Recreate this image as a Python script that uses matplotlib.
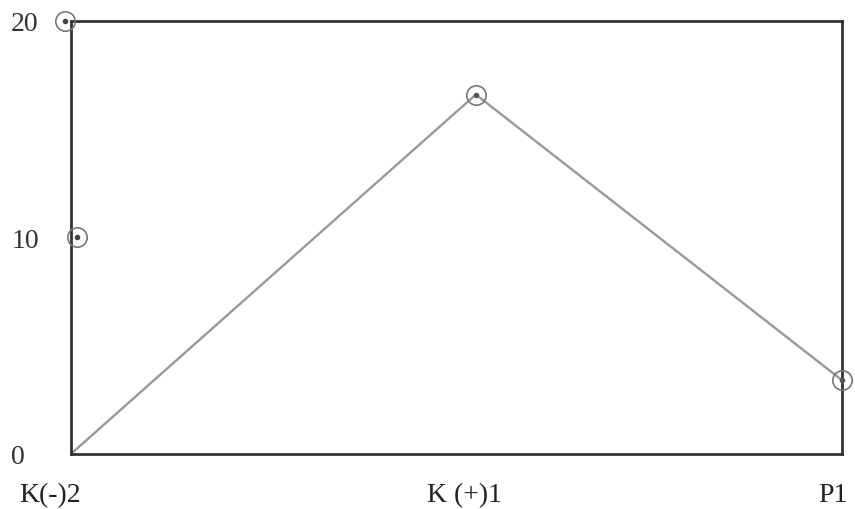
import matplotlib
matplotlib.use("Agg")
import matplotlib.pyplot as plt
import matplotlib.transforms as mtransforms

# data
categories = ["K(-)2", "K (+)1", "P1"]
x_pos = [0, 1.05, 2]
values = [0, 16.6, 3.4]
# circled marks on the left axis
axis_marks_x = [-0.015, 0.015]
axis_marks_y = [20, 10]
y_ticks = [0, 10, 20]

plt.rcParams["font.family"] = ["Liberation Serif", "DejaVu Serif"]

fig = plt.figure(figsize=(8.55, 5.10), dpi=100)
ax = fig.add_axes([0.083, 0.108, 0.902, 0.849])

ax.plot(x_pos, values, color="#999999", lw=1.7, zorder=2)
ax.plot(x_pos[1:], values[1:], ls="none", marker="o", ms=14, mfc="none",
        mec="#777777", mew=1.2, clip_on=False, zorder=3)
ax.plot(x_pos[1:], values[1:], ls="none", marker="o", ms=3,
        color="#555555", clip_on=False, zorder=3)
ax.plot(axis_marks_x, axis_marks_y, ls="none", marker="o", ms=14, mfc="none",
        mec="#777777", mew=1.2, clip_on=False, zorder=3)
ax.plot(axis_marks_x, axis_marks_y, ls="none", marker="o", ms=3,
        color="#444444", clip_on=False, zorder=3)

ax.set_xlim(0, 2)
ax.set_ylim(0, 20)
for s in ax.spines.values():
    s.set_color("#333333")
    s.set_linewidth(2)

ax.set_yticks(y_ticks)
ax.set_yticklabels([str(v) for v in y_ticks])
ax.set_xticks(x_pos)
ax.set_xticklabels(categories)
ax.tick_params(axis="y", length=0, pad=43, labelsize=20, labelcolor="#333333")
ax.tick_params(axis="x", length=0, pad=20, labelsize=20, labelcolor="#222222")
for lab in ax.get_yticklabels():
    lab.set_ha("left")
shifts = [-21, -11, -9]
for lab, dx in zip(ax.get_xticklabels(), shifts):
    lab.set_transform(lab.get_transform() +
                      mtransforms.ScaledTranslation(dx / 100, 0, fig.dpi_scale_trans))

fig.savefig("out.png", dpi=100)
